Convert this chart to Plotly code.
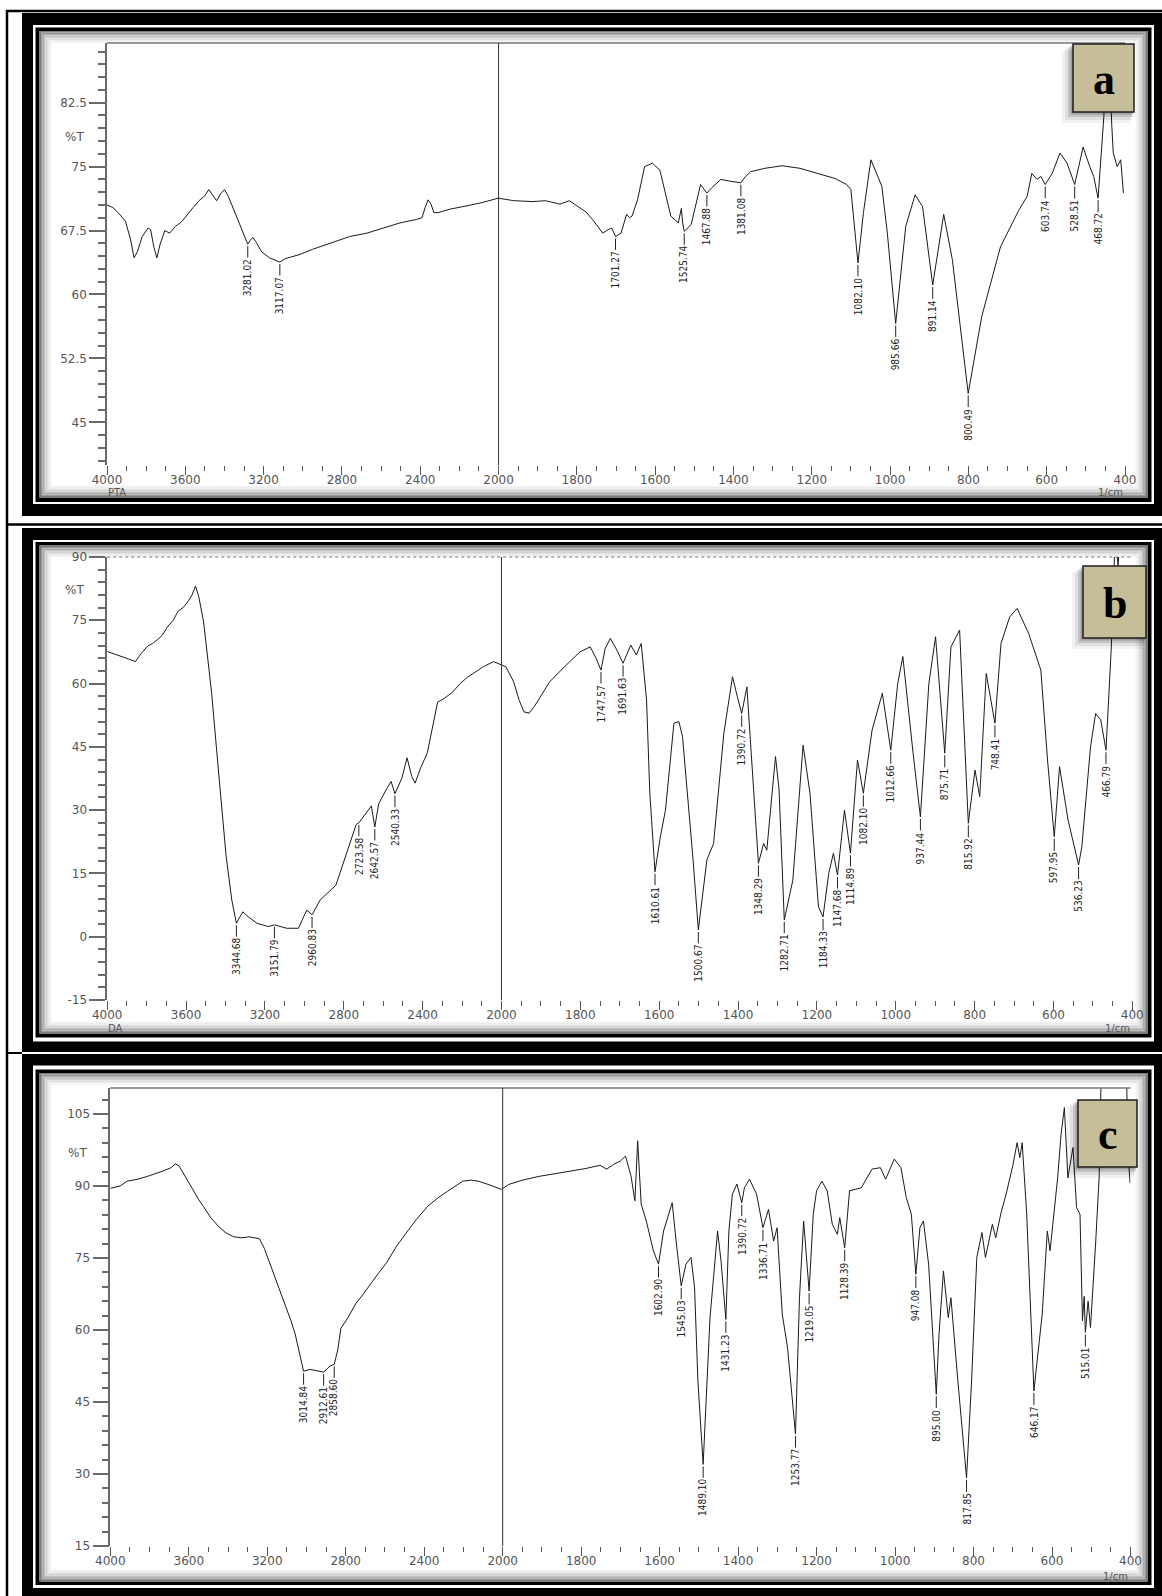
import numpy as np
import plotly.graph_objects as go

W, H = 1162, 1596

# ---------------- data (wavenumber cm-1, %T) ----------------
a_points = [
    (4000, 70.5), (3970, 70.2), (3943, 69.6), (3906, 68.6), (3880, 66.5), (3862, 64.3), (3845, 65.0),
    (3820, 66.8), (3790, 67.8), (3777, 67.6), (3760, 65.5), (3745, 64.3), (3730, 65.8), (3705, 67.5),
    (3680, 67.2), (3650, 68.0), (3620, 68.5), (3590, 69.4), (3560, 70.2), (3530, 71.0), (3500, 71.6),
    (3480, 72.3), (3460, 71.6), (3440, 71.0), (3420, 71.8), (3400, 72.3), (3380, 71.5), (3350, 69.8),
    (3320, 68.0), (3295, 66.8), (3281.02, 65.9), (3270, 66.3), (3255, 66.7), (3240, 66.2), (3210, 65.0),
    (3170, 64.3), (3140, 64.0), (3117.07, 63.8), (3090, 64.2), (3014, 64.7), (2950, 65.3), (2846, 66.1),
    (2760, 66.8), (2672, 67.2), (2580, 67.9), (2503, 68.4), (2420, 68.8), (2391, 69.0), (2375, 70.2),
    (2360, 71.1), (2345, 70.6), (2330, 69.6), (2309, 69.6), (2250, 70.0), (2162, 70.4), (2080, 70.8),
    (2002, 71.3), (1960, 71.0), (1912, 70.9), (1880, 71.0), (1843, 70.6), (1819, 71.0), (1800, 70.4),
    (1777, 69.7), (1760, 68.8), (1748, 68.0), (1734, 67.2), (1720, 67.6), (1711, 67.8), (1701.27, 66.8),
    (1687, 67.2), (1673, 69.4), (1665, 69.0), (1659, 69.2), (1645, 71.1), (1627, 75.0), (1607, 75.4),
    (1598, 75.0), (1588, 74.6), (1560, 69.2), (1541, 68.4), (1533, 70.1), (1530, 68.5), (1525.74, 67.4),
    (1508, 68.2), (1484, 72.9), (1467.88, 71.9), (1456, 72.5), (1432, 73.5), (1410, 73.3), (1381.08, 73.1),
    (1370, 73.8), (1356, 74.4), (1320, 74.8), (1276, 75.1), (1230, 74.8), (1182, 74.2), (1140, 73.6),
    (1111, 72.9), (1100, 72.3), (1082.10, 63.7), (1068, 69.6), (1049, 75.8), (1021, 72.7), (1007, 67.2),
    (985.66, 56.6), (960, 68.0), (936, 71.7), (917, 70.3), (891.14, 61.1), (863, 69.4), (841, 64.1),
    (800.49, 48.4), (766, 57.4), (718, 65.6), (671, 69.9), (650, 71.5), (638, 74.2), (625, 73.5),
    (615, 73.85), (603.74, 72.9), (586, 74.2), (566, 76.6), (548, 75.4), (528.51, 72.9), (507, 77.3),
    (490, 75.0), (480, 73.85), (468.72, 71.3), (454, 80.9), (450, 88.0), (440, 88.0), (434, 80.0),
    (430, 76.6), (420, 75.0), (411, 75.8), (404, 71.9),
]

b_points = [
    (4000, 67.6), (3960, 67.0), (3924, 66.4), (3890, 65.8), (3857, 65.2), (3830, 67.0), (3795, 68.9),
    (3770, 69.5), (3743, 70.5), (3720, 71.5), (3692, 73.6), (3665, 75.0), (3640, 77.2), (3615, 78.0),
    (3588, 79.6), (3570, 81.0), (3552, 83.1), (3535, 80.5), (3511, 74.6), (3490, 66.0), (3470, 57.7),
    (3434, 38.5), (3397, 19.2), (3368, 8.7), (3344.68, 3.2), (3312, 5.9), (3284, 4.7), (3241, 3.2),
    (3183, 2.4), (3151.79, 2.8), (3089, 2.0), (3030, 2.0), (2988, 6.3), (2960.83, 5.2), (2920, 8.7),
    (2840, 12.2), (2789, 19.4), (2737, 26.6), (2723.58, 27.0), (2700, 28.5), (2670, 30.5), (2660, 31.0),
    (2642.57, 26.0), (2623, 31.5), (2582, 35.1), (2560, 36.8), (2540.33, 33.9), (2505, 37.6),
    (2479, 42.4), (2455, 38.0), (2438, 36.4), (2410, 40.0), (2376, 43.6), (2350, 50.0), (2324, 55.6),
    (2290, 56.5), (2247, 58.0), (2210, 60.0), (2170, 61.6), (2130, 62.8), (2092, 64.0), (2040, 65.2),
    (2010, 64.6), (1989, 64.0), (1969, 60.4), (1955, 56.0), (1943, 53.3), (1930, 53.0), (1917, 54.5),
    (1878, 60.4), (1840, 64.0), (1801, 67.5), (1775, 68.7), (1760, 66.0), (1747.57, 63.2), (1737, 68.3),
    (1724, 70.7), (1707, 67.9), (1691.63, 64.8), (1672, 69.1), (1658, 66.8), (1645.5, 69.5),
    (1632, 56.1), (1623.7, 34.0), (1610.61, 15.4), (1597, 23.7), (1584, 30.0), (1562.6, 50.6),
    (1550, 51.0), (1540.8, 47.4), (1514, 18.2), (1500.67, 1.6), (1479, 18.2), (1462, 22.1),
    (1436, 48.2), (1414, 61.6), (1402, 57.0), (1390.72, 52.9), (1377.5, 59.2), (1366, 41.9),
    (1348.29, 17.4), (1335, 22.1), (1327, 20.5), (1305, 42.7), (1296, 35.0), (1282.71, 4.0),
    (1261, 13.4), (1235, 45.4), (1217.5, 34.0), (1196, 7.1), (1184.33, 4.7), (1170, 15.0),
    (1158, 19.8), (1147.68, 14.6), (1130, 30.0), (1114.89, 19.8), (1097, 41.9), (1082.10, 34.0),
    (1060, 49.0), (1034, 57.7), (1012.66, 44.2), (995, 60.0), (982, 66.4), (956, 43.5),
    (937.44, 28.4), (916, 60.0), (899, 71.1), (875.71, 43.5), (860, 68.7), (838, 72.7),
    (815.92, 26.9), (799, 39.5), (787, 33.2), (770.5, 62.4), (748.41, 50.6), (733, 69.5),
    (711, 75.8), (692, 77.8), (663, 71.9), (632, 63.2), (615, 41.9), (597.95, 23.7), (584.5, 40.3),
    (563, 27.7), (536.23, 17.0), (528, 21.3), (506, 45.0), (493, 52.9), (480, 51.4), (466.79, 44.2),
    (458, 59.2), (454, 67.2), (448, 80.0), (444, 95.0), (436, 88.0), (430, 96.0), (424, 90.0),
    (414, 95.0), (405, 92.0),
]

c_points = [
    (4000, 89.5), (3950, 90.0), (3914, 91.0), (3860, 91.4), (3810, 92.0), (3770, 92.5), (3732, 93.1),
    (3690, 93.8), (3670, 94.6), (3650, 94.2), (3629, 92.7), (3600, 90.5), (3577, 88.9), (3550, 87.2),
    (3525, 85.7), (3490, 83.5), (3447, 81.5), (3410, 80.2), (3370, 79.4), (3330, 79.2), (3292, 79.4),
    (3240, 79.0), (3215, 77.0), (3188, 74.0), (3150, 70.0), (3110, 65.6), (3080, 62.0), (3058, 59.2),
    (3030, 54.5), (3014.84, 51.4), (2981, 51.8), (2940, 51.5), (2912.61, 51.2), (2880, 52.5),
    (2858.60, 52.8), (2840, 56.0), (2825, 60.3), (2790, 62.5), (2747, 65.6), (2710, 67.5),
    (2670, 69.8), (2630, 72.0), (2592, 74.0), (2540, 77.5), (2488, 80.4), (2440, 83.0), (2384, 85.7),
    (2330, 87.5), (2281, 88.9), (2240, 90.0), (2203, 91.0), (2160, 91.2), (2125, 91.0), (2080, 90.4),
    (2047, 89.9), (2006, 89.3), (1985, 90.3), (1950, 91.2), (1907, 92.0), (1870, 92.5), (1829, 93.1),
    (1790, 93.6), (1752, 94.3), (1735, 93.5), (1717, 94.5), (1700, 95.2), (1687, 96.2), (1673, 92.1),
    (1663, 86.9), (1656, 99.4), (1647, 86.2), (1634, 82.7), (1616, 76.5), (1602.90, 73.7),
    (1590, 80.6), (1568, 86.5), (1558, 78.5), (1545.03, 69.2), (1533, 73.7), (1520, 75.1),
    (1511, 68.9), (1502.5, 49.4), (1489.10, 32.0), (1480.5, 48.0), (1471.6, 62.6), (1452.3, 80.6),
    (1443.6, 74.4), (1431.23, 62.2), (1423.5, 80.6), (1414.6, 88.3), (1403, 90.4), (1390.72, 86.5),
    (1384, 89.6), (1371, 91.4), (1353, 88.3), (1336.71, 81.3), (1322.6, 85.1), (1309.4, 78.5),
    (1300.7, 81.3), (1287.5, 63.3), (1274, 56.3), (1253.77, 38.3), (1243.6, 66.7), (1233, 82.7),
    (1219.05, 68.1), (1208.5, 84.1), (1200, 89.0), (1186.6, 91.0), (1173, 89.0), (1160, 82.0),
    (1147, 79.9), (1141, 83.4), (1128.39, 77.1), (1116, 89.0), (1086, 89.6), (1059, 93.5),
    (1037.5, 93.8), (1024, 91.4), (1002, 95.6), (985, 93.8), (971.5, 87.6), (958.5, 84.1),
    (947.08, 71.6), (936.6, 81.3), (927.7, 82.7), (914.5, 73.7), (895.00, 46.6), (888, 59.1),
    (876.7, 72.3), (864.5, 62.6), (857.6, 66.7), (840, 49.4), (817.85, 29.2), (805, 49.4),
    (791.7, 75.1), (778.6, 80.3), (769.7, 75.1), (752, 82.0), (743.5, 79.2), (730, 84.4),
    (717, 88.3), (700, 94.2), (689, 99.0), (682, 95.9), (676, 99.0), (664.5, 84.1), (646.17, 47.3),
    (638, 53.5), (625, 63.3), (612, 80.6), (605, 76.5), (585.6, 91.7), (577, 100.8), (568.5, 106.3),
    (559.6, 91.7), (546.6, 98.0), (537.4, 85.5), (528.7, 84.1), (522.4, 61.9), (518, 67.0),
    (515.01, 59.5), (508, 66.0), (502, 60.5), (489, 77.9), (480, 91.7), (475, 112.0), (465, 113.0),
    (455, 112.0), (440, 115.0), (420, 114.0), (410, 112.0), (405, 95.0), (401, 90.6),
]

a_peak_labels = ["3281.02", "3117.07", "1701.27", "1525.74", "1467.88", "1381.08", "1082.10",
                 "985.66", "891.14", "800.49", "603.74", "528.51", "468.72"]
b_peak_labels = ["3344.68", "3151.79", "2960.83", "2723.58", "2642.57", "2540.33", "1747.57",
                 "1691.63", "1610.61", "1500.67", "1390.72", "1348.29", "1282.71", "1184.33",
                 "1147.68", "1114.89", "1082.10", "1012.66", "937.44", "875.71", "815.92",
                 "748.41", "597.95", "536.23", "466.79"]
c_peak_labels = ["3014.84", "2912.61", "2858.60", "1602.90", "1545.03", "1489.10", "1431.23",
                 "1390.72", "1336.71", "1253.77", "1219.05", "1128.39", "947.08", "895.00",
                 "817.85", "646.17", "515.01"]

x_tick_labels = ["4000", "3600", "3200", "2800", "2400", "2000", "1800", "1600", "1400",
                 "1200", "1000", "800", "600", "400"]
a_y_ticks = ["45", "52.5", "60", "67.5", "75", "82.5"]
b_y_ticks = ["-15", "0", "15", "30", "45", "60", "75", "90"]
c_y_ticks = ["15", "30", "45", "60", "75", "90", "105"]
sample_names = ["PTA", "DA", ""]
panel_letters = ["a", "b", "c"]


# Shimadzu-style axis: 4000-2000 compressed 2x relative to 2000-400
def to_u(w):
    w = np.asarray(w, dtype=float)
    return np.where(w >= 2000, (4000.0 - w) / 2.0, 1000.0 + (2000.0 - w))


def px(x):
    return x / W


def py(y):
    return 1 - y / H


# layout geometry (pixels)
geo = [
    dict(xpx=(107, 1125), ypx=(43, 465), yr=(40, 89.5), minor=1.5, top="solid",
         frame=(13, 516, 25, 504, 27.5, 502, 31, 497.5), box=(1073, 44, 1134, 112),
         pct=(86, 137), name=(107, 492.8), cm=(1124, 492.8)),
    dict(xpx=(107.2, 1132.3), ypx=(557, 1000), yr=(-15, 90), minor=3, top="dash",
         frame=(528, 1052, 540, 1041.5, 542, 1037.5, 545.5, 1033.5), box=(1083, 566, 1146, 638),
         pct=(86, 590), name=(107, 1028.5), cm=(1131, 1028.5)),
    dict(xpx=(110.3, 1130.5), ypx=(1088, 1546), yr=(15, 110.4), minor=3, top="solid",
         frame=(1054, 1610, 1065.5, 1588, 1069.5, 1585, 1073, 1581.5), box=(1078, 1100, 1137, 1167),
         pct=(89, 1153), name=(110, 1576), cm=(1129, 1576)),
]

all_points = [a_points, b_points, c_points]
all_peaks = [a_peak_labels, b_peak_labels, c_peak_labels]
all_yticks = [a_y_ticks, b_y_ticks, c_y_ticks]

fig = go.Figure()
shapes = []
annotations = []

# table borders
shapes.append(dict(type="line", xref="paper", yref="paper", x0=px(7), x1=px(7), y0=py(10), y1=py(1600),
                   line=dict(color="black", width=2.5), layer="below"))
for yy in (11, 524.5):
    shapes.append(dict(type="line", xref="paper", yref="paper", x0=px(6), x1=px(1170), y0=py(yy), y1=py(yy),
                       line=dict(color="black", width=2.5), layer="below"))
shapes.append(dict(type="line", xref="paper", yref="paper", x0=px(6), x1=px(22), y0=py(1053), y1=py(1053),
                   line=dict(color="black", width=2), layer="below"))


def rect(l, t, r, b, fill, layer="below", line=None):
    d = dict(type="rect", xref="paper", yref="paper", x0=px(l), x1=px(r), y0=py(b), y1=py(t),
             fillcolor=fill, layer=layer, line=dict(width=0))
    if line is not None:
        d["line"] = line
    return d


shade = ["#7c7c7c", "#969696", "#adadad", "#c2c2c2", "#d3d3d3", "#e1e1e1", "#ececec", "#f5f5f5"]

for i, g in enumerate(geo):
    ot, ob, wt, wb, bt, bb, at, ab = g["frame"]
    shapes.append(rect(22, ot, 1170, ob, "black"))
    shapes.append(rect(33, wt, 1154, wb, "white"))
    shapes.append(rect(35.5, bt, 1151.5, bb, "black"))
    shapes.append(rect(39.5, at, 1147.5, ab, "white"))
    for k, col in enumerate(shade):
        o = 0.8 + k * 1.5
        shapes.append(dict(type="rect", xref="paper", yref="paper",
                           x0=px(39.5 + o), x1=px(1147.5 - o), y0=py(ab - o), y1=py(at + o),
                           line=dict(color=col, width=1.6), fillcolor="rgba(0,0,0,0)", layer="below"))

small_font = dict(family="DejaVu Sans, Verdana, sans-serif", size=10, color="#555555")

for i, g in enumerate(geo):
    n = "" if i == 0 else str(i + 1)
    xname, yname = "x" + n, "y" + n
    pts = all_points[i]
    wn = np.array([p[0] for p in pts], dtype=float)
    tt = np.array([p[1] for p in pts], dtype=float)
    fig.add_trace(go.Scatter(x=to_u(wn), y=tt, mode="lines", xaxis=xname, yaxis=yname,
                             line=dict(color="#1a1a1a", width=1), hoverinfo="skip", showlegend=False))

    x0, x1 = g["xpx"]
    y0, y1 = g["ypx"]
    yt = all_yticks[i]
    tickfont = dict(family="DejaVu Sans, Verdana, sans-serif", size=12, color="#555555")
    fig.layout["xaxis" + n] = dict(
        domain=[px(x0), px(x1)], range=[0, 2600], anchor=yname, showgrid=False, zeroline=False,
        showline=False, tickmode="array", tickvals=list(to_u([float(s) for s in x_tick_labels])),
        ticktext=x_tick_labels, ticks="outside", ticklen=9, tickwidth=1, tickcolor="#555555",
        ticklabelstandoff=-5,
        minor=dict(tickmode="linear", tick0=0, dtick=50, ticks="outside", ticklen=5, tickwidth=1,
                   tickcolor="#555555", showgrid=False),
        tickfont=tickfont, fixedrange=True, automargin=False)
    fig.layout["yaxis" + n] = dict(
        domain=[py(y1), py(y0)], range=list(g["yr"]), anchor=xname, showgrid=False, zeroline=False,
        showline=True, linecolor="#6a6a6a", linewidth=1.5, tickmode="array",
        tickvals=[float(s) for s in yt], ticktext=yt, ticks="outside", ticklen=16, tickwidth=1.5,
        tickcolor="#6a6a6a",
        minor=dict(tickmode="linear", tick0=float(yt[0]), dtick=g["minor"], ticks="outside",
                   ticklen=7, tickwidth=1.5, tickcolor="#6a6a6a", showgrid=False),
        tickfont=tickfont, fixedrange=True, automargin=False)

    # top border of plot box
    shapes.append(dict(type="line", xref=xname + " domain", yref=yname + " domain", x0=0, x1=1, y0=1, y1=1,
                       line=dict(color="#777777", width=1.5 if g["top"] == "solid" else 1,
                                 dash="solid" if g["top"] == "solid" else "3px,3px")))
    # 2000 cm-1 scale-change line
    shapes.append(dict(type="line", xref=xname, yref=yname + " domain", x0=float(to_u(2000)),
                       x1=float(to_u(2000)), y0=0, y1=1, line=dict(color="#333333", width=1)))

    # peak labels
    for s in all_peaks[i]:
        w = float(s)
        tv = float(np.interp(w, wn[::-1], tt[::-1]))
        L = len(s) * 4.4 + 2
        annotations.append(dict(
            x=float(to_u(w)), y=tv, xref=xname, yref=yname, text=s, textangle=-90,
            showarrow=True, arrowhead=0, arrowwidth=1, arrowcolor="#222222", ax=0, ay=17 + L / 2,
            standoff=2, font=dict(family="Liberation Sans Narrow, DejaVu Sans Condensed, Liberation Sans, sans-serif",
                                  size=10, color="#222222")))

    # %T, sample name, 1/cm
    annotations.append(dict(x=px(g["pct"][0]), y=py(g["pct"][1]), xref="paper", yref="paper", text="%T",
                            showarrow=False, xanchor="right", yanchor="middle", font=tickfont))
    if sample_names[i]:
        annotations.append(dict(x=px(g["name"][0]), y=py(g["name"][1]), xref="paper", yref="paper",
                                text=sample_names[i], showarrow=False, xanchor="left", yanchor="middle",
                                font=small_font, borderpad=0))
    annotations.append(dict(x=px(g["cm"][0]), y=py(g["cm"][1]), xref="paper", yref="paper", text="1/cm",
                            showarrow=False, xanchor="right", yanchor="middle", font=small_font, borderpad=0))

    # letter box with drop shadow
    bl, bt_, br, bb_ = g["box"]
    for off, alpha in ((11, 0.05), (8, 0.08), (5, 0.12), (2.5, 0.18)):
        shapes.append(rect(bl - off, bt_ + off * 0.6, br - off * 0.3, bb_ + off, f"rgba(0,0,0,{alpha})",
                           layer="above"))
    shapes.append(rect(bl, bt_, br, bb_, "#c6be99", layer="above",
                       line=dict(color="#1e1e1e", width=1.5)))
    annotations.append(dict(x=px((bl + br) / 2), y=py((bt_ + bb_) / 2 + 1), xref="paper", yref="paper",
                            text="<b>" + panel_letters[i] + "</b>", showarrow=False, xanchor="center",
                            yanchor="middle",
                            font=dict(family="Liberation Serif, Times New Roman, serif", size=44,
                                      color="black")))

fig.update_layout(width=W, height=H, margin=dict(l=0, r=0, t=0, b=0), paper_bgcolor="white",
                  plot_bgcolor="rgba(0,0,0,0)", shapes=shapes, annotations=annotations,
                  showlegend=False, hovermode=False)

fig.write_html("out.html")
